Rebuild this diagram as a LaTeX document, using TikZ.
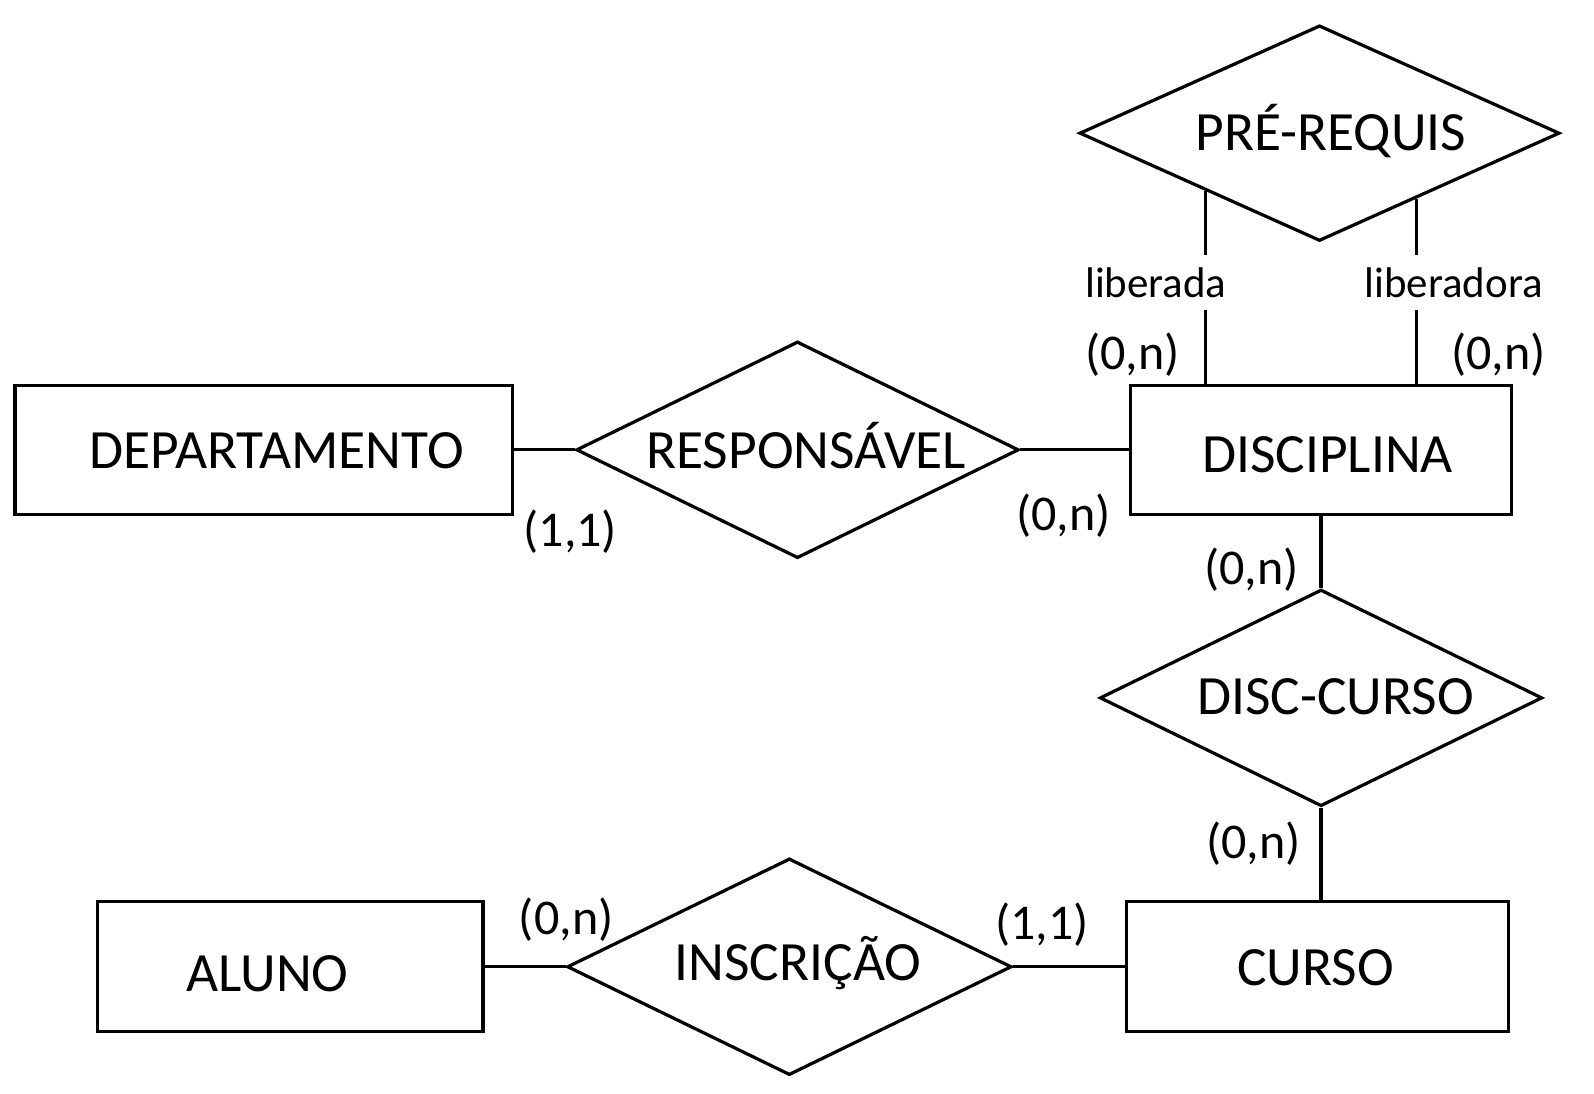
\documentclass[tikz,border=0pt]{standalone}
\usepackage{fontspec}
\setmainfont{Carlito}
\usetikzlibrary{shapes.geometric}
\tikzset{
  entbox/.style   = {draw,line width=0.9pt,minimum height=1.27cm,inner sep=0pt},
  relbox/.style   = {draw,diamond,line width=0.9pt,minimum width=4.35cm,minimum height=2.13cm,inner sep=0pt},
  ertext/.style   = {anchor=base,inner sep=0pt,font=\fontsize{15.5}{18}\selectfont},
  card/.style     = {inner sep=0pt,font=\fontsize{14}{16}\selectfont},
  rolename/.style = {fill=white,inner xsep=2pt,inner ysep=0.12cm,font=\fontsize{12}{14}\selectfont},
  erline/.style   = {line width=0.9pt}
}

\begin{document}
\begin{tikzpicture}[x=0.01cm,y=-0.01cm]
  \useasboundingbox (0,0) rectangle (1568,1076);
  % entidades
  \node[entbox,minimum width=4.89cm] (depto) at (259.5,442.5) {};
  \node[entbox,minimum width=3.75cm] (disc)  at (1299.5,442.5) {};
  \node[entbox,minimum width=3.79cm,minimum height=1.28cm] (aluno) at (285.5,951) {};
  \node[entbox,minimum width=3.76cm,minimum height=1.28cm] (curso) at (1296,951) {};
  % relacionamentos
  \node[relbox] (resp) at (784.5,442.5) {};
  \node[relbox,minimum width=4.72cm,minimum height=2.12cm] (prereq) at (1298,131) {};
  \node[relbox] (disccurso) at (1299.5,686.5) {};
  \node[relbox,minimum width=4.37cm] (inscr) at (776.5,951) {};
  % nomes
  \node[ertext] (tdepto)  at (272,461)  {DEPARTAMENTO};
  \node[ertext] (tdisc)   at (1306,465) {DISCIPLINA};
  \node[ertext] (taluno)  at (263,975)  {ALUNO};
  \node[ertext] (tcurso)  at (1294,969) {CURSO};
  \node[ertext] (tresp)   at (793,461)  {RESPONSÁVEL};
  \node[ertext] (tprereq) at (1309,148) {PRÉ-REQUIS};
  \node[ertext] (tdc)     at (1314,703) {DISC-CURSO};
  \node[ertext] (tinscr)  at (785,965)  {INSCRIÇÃO};
  % ligacoes
  \draw[erline] (depto.east) -- (resp.west);
  \draw[erline] (resp.east) -- (disc.west);
  \draw[erline] (disc.south) -- (disccurso.north);
  \draw[erline] (disccurso.south) -- (disccurso.south |- curso.north);
  \draw[erline] (aluno.east) -- (inscr.west);
  \draw[erline] (inscr.east) -- (curso.west);
  \draw[erline] (prereq.207) -- (prereq.207 |- disc.north);
  \draw[erline] (prereq.326) -- (prereq.326 |- disc.north);
  \node[rolename] (rlib1) at (1137,278) {liberada};
  \node[rolename] (rlib2) at (1430,278) {liberadora};
  % cardinalidades
  \node[card] (c1) at (561,523)  {(1,1)};
  \node[card] (c2) at (1046,507) {(0,n)};
  \node[card] (c3) at (1114,349) {(0,n)};
  \node[card] (c4) at (1474,349) {(0,n)};
  \node[card] (c5) at (1231,560) {(0,n)};
  \node[card] (c6) at (1233,830) {(0,n)};
  \node[card] (c7) at (557,905)  {(0,n)};
  \node[card] (c8) at (1025,910) {(1,1)};
\end{tikzpicture}
\end{document}
